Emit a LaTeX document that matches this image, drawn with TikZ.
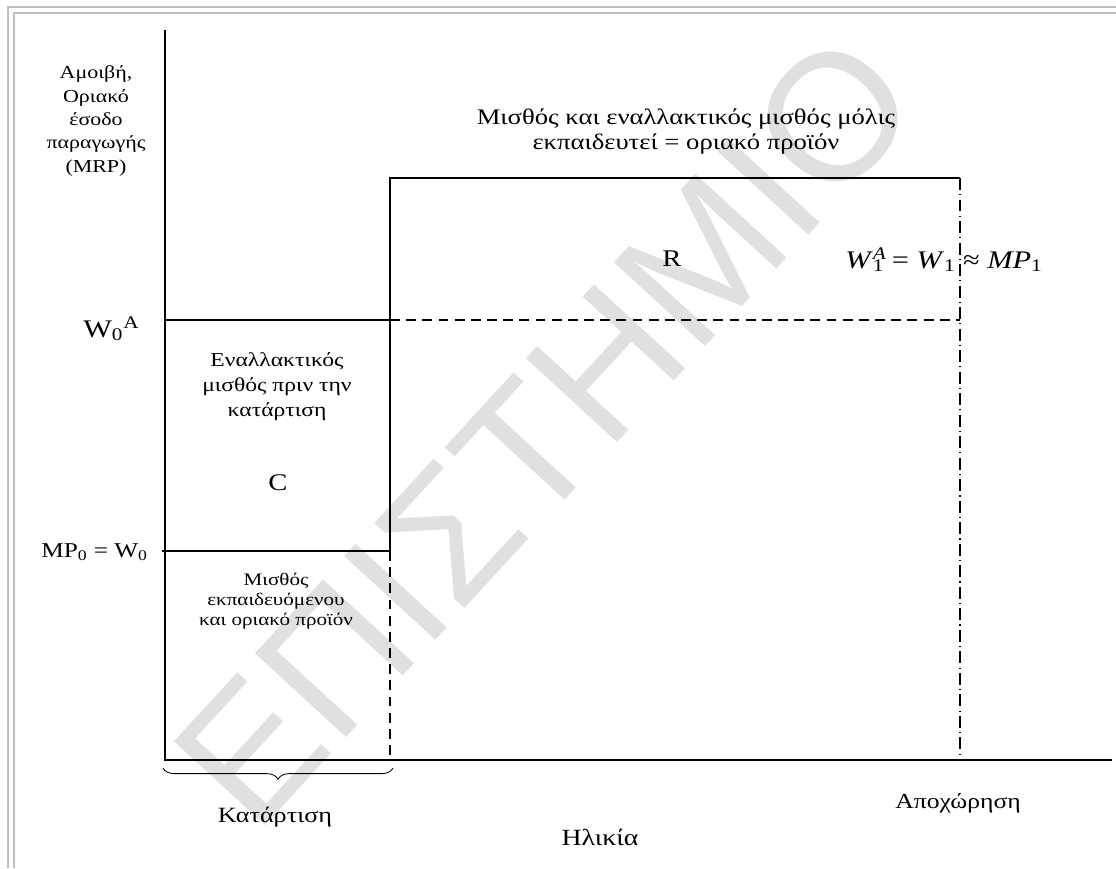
\documentclass[tikz,border=0pt]{standalone}
\usepackage{fontspec}
\setmainfont[FakeStretch=1.2]{Liberation Serif}
\newfontfamily\markfont{Liberation Sans}
\usetikzlibrary{decorations.pathreplacing}

\begin{document}
\begin{tikzpicture}[x=0.025cm,y=-0.025cm,
    axis/.style={line width=1.1pt},
    level/.style={line width=1.1pt},
    guide/.style={line width=1.1pt,dash pattern=on 7pt off 4.5pt},
    retire/.style={line width=0.9pt,dash pattern=on 8.5pt off 3pt on 0.8pt off 3pt},
    frame/.style={draw=black!25,line width=1.6pt},
    lbl/.style={inner sep=0pt,align=center}]
  \useasboundingbox (0,0) rectangle (1116,868);
  % watermark
  \node[rotate=47.4,text=black!12,inner sep=0pt,
        font=\markfont\fontsize{128}{128}\selectfont] (mark) at (545,430) {ΕΠΙΣΤΗΜΙΟ};
  % frame
  \draw[frame] (8,868) -- (8,7) -- (1116,7);
  \draw[frame] (14,868) -- (14,13) -- (1116,13);
  % points of the wage profile
  \coordinate (O) at (165,760);
  \coordinate (ytop) at (165,30);
  \coordinate (xend) at (1112,760);
  \coordinate (wa) at (165,320);
  \coordinate (w0) at (162,551);
  \coordinate (s0) at (390,551);
  \coordinate (sa) at (390,320);
  \coordinate (s1) at (390,178);
  \coordinate (sb) at (390,760);
  \coordinate (r1) at (960,178);
  \coordinate (ra) at (960,320);
  \coordinate (r0) at (960,760);
  \draw[axis] (ytop) -- (O) -- (xend);
  \draw[level] (wa) -- (sa);
  \draw[level] (w0) -- (s0) -- (s1) -- (r1);
  \draw[guide] (sa) -- (ra);
  \draw[guide] (s0) -- (sb);
  \draw[retire] (r1) -- (r0);
  % training brace
  \coordinate (bl) at (163,768);
  \coordinate (br) at (393,768);
  \draw[line width=0.6pt,decorate,decoration={brace,mirror,amplitude=8pt}] (bl) -- (br);
  % labels
  \begin{scope}
    \clip (0,0) rectangle (147,868);
    \node[lbl,font=\fontsize{13}{16.6}\selectfont] (ylab) at (96,121)
      {Αμοιβή,\\Οριακό\\έσοδο\\παραγωγής\\(MRP)};
  \end{scope}
  \node[inner sep=0pt,anchor=base west,font=\fontsize{18}{20}\selectfont] (wA) at (83,337)
    {W\textsubscript{0}\textsuperscript{A}};
  \node[inner sep=0pt,anchor=base west,font=\fontsize{15}{17}\selectfont] (mp0) at (41,557)
    {MP\textsubscript{0} = W\textsubscript{0}};
  \node[lbl,font=\fontsize{14}{17.8}\selectfont] (alt) at (277,387)
    {Εναλλακτικός\\μισθός πριν την\\κατάρτιση};
  \node[inner sep=0pt,anchor=base,font=\fontsize{17}{20}\selectfont] (C) at (278,490) {C};
  \node[lbl,font=\fontsize{12.5}{14.2}\selectfont] (train) at (276,601)
    {Μισθός\\εκπαιδευόμενου\\και οριακό προϊόν};
  \node[lbl,font=\fontsize{15.8}{17.8}\selectfont] (after) at (686,132)
    {Μισθός και εναλλακτικός μισθός μόλις\\εκπαιδευτεί = οριακό προϊόν};
  \node[inner sep=0pt,anchor=base,font=\fontsize{17}{20}\selectfont] (R) at (672,266) {R};
  \node[inner sep=0pt,anchor=base west,font=\fontsize{18}{22}\selectfont] (w1) at (845,268)
    {\textit{W}\rlap{\textsuperscript{\textit{A}}}\textsubscript{1} = \textit{W}\textsubscript{1} ≈ \textit{MP}\textsubscript{1}};
  \node[inner sep=0pt,anchor=base,font=\fontsize{15.5}{16}\selectfont] (ktr) at (275,822) {Κατάρτιση};
  \node[inner sep=0pt,anchor=base,font=\fontsize{15.2}{16}\selectfont] (ret) at (958,808) {Αποχώρηση};
  \node[inner sep=0pt,anchor=base,font=\fontsize{16.5}{20}\selectfont] (age) at (600,845) {Ηλικία};
\end{tikzpicture}
\end{document}
